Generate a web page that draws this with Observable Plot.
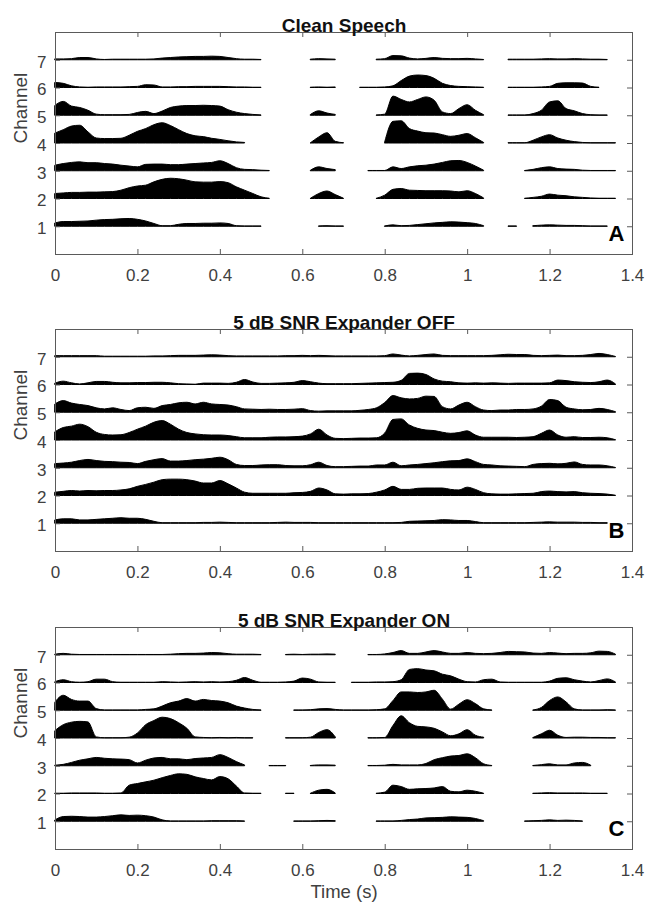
<!DOCTYPE html>
<html>
<head>
<meta charset="utf-8">
<script src="https://cdn.jsdelivr.net/npm/d3@7"></script>
<script src="https://cdn.jsdelivr.net/npm/@observablehq/plot@0.6"></script>
<style>
  html, body { margin: 0; padding: 0; background: #fff; }
  #chart { width: 645px; }
  #chart svg { display: block; }
</style>
</head>
<body>
<div id="chart"></div>
<script>
const _ = null;

// sample times (s)
const time = [
  0,0.02,0.04,0.06,0.08,0.1,0.12,0.14,0.16,0.18,
  0.2,0.22,0.24,0.26,0.28,0.3,0.32,0.34,0.36,0.38,
  0.4,0.42,0.44,0.46,0.48,0.5,0.52,0.54,0.56,0.58,
  0.6,0.62,0.64,0.66,0.68,0.7,0.72,0.74,0.76,0.78,
  0.8,0.82,0.84,0.86,0.88,0.9,0.92,0.94,0.96,0.98,
  1,1.02,1.04,1.06,1.08,1.1,1.12,1.14,1.16,1.18,
  1.2,1.22,1.24,1.26,1.28,1.3,1.32,1.34,1.36
];

const xTicks = [0, 0.2, 0.4, 0.6, 0.8, 1, 1.2, 1.4];
const yTicks = [1, 2, 3, 4, 5, 6, 7];
const panelTitles = ["Clean Speech", "5 dB SNR Expander OFF", "5 dB SNR Expander ON"];
const panelLetters = ["A", "B", "C"];
const xLabel = "Time (s)";
const yLabel = "Channel";

// ---- Panel A: clean speech (envelope height per channel, null = silence) ----
const cleanCh1 = [0.12,0.17,0.17,0.18,0.19,0.22,0.24,0.25,0.27,0.28,
  0.25,0.19,0.10,0.02,0.02,0.07,0.10,0.10,0.11,0.11,
  0.12,0.10,0.02,0.01,0.01,0.01,_,_,_,_,
  _,_,0.01,0.02,0.01,0.01,_,_,_,_,
  0.01,0.05,0.02,0.03,0.06,0.09,0.12,0.14,0.16,0.15,
  0.13,0.10,0.02,_,_,0.01,0.01,_,0.02,0.04,
  0.05,0.04,0.03,0.03,0.02,0.01,0.01,0.01,_];
const cleanCh2 = [0.18,0.20,0.22,0.22,0.23,0.23,0.24,0.25,0.30,0.39,
  0.45,0.48,0.60,0.69,0.73,0.71,0.66,0.60,0.59,0.59,
  0.61,0.57,0.42,0.30,0.18,0.06,0.01,_,_,_,
  _,0.01,0.18,0.27,0.14,0.01,_,_,_,0.01,
  0.12,0.33,0.36,0.30,0.29,0.28,0.28,0.28,0.27,0.24,
  0.28,0.18,0.02,_,_,_,_,0.01,0.04,0.08,
  0.16,0.12,0.10,0.06,0.04,0.02,0.01,0.01,0.01];
const cleanCh3 = [0.20,0.26,0.30,0.32,0.29,0.29,0.26,0.24,0.20,0.17,
  0.14,0.23,0.24,0.24,0.22,0.22,0.24,0.26,0.28,0.30,
  0.36,0.26,0.11,0.05,0.04,0.02,0.01,_,_,_,
  _,0.02,0.14,0.08,0.04,_,_,_,0.01,0.01,
  0.01,0.14,0.08,0.14,0.18,0.20,0.24,0.30,0.36,0.37,
  0.30,0.17,0.02,_,_,_,_,0.01,0.05,0.11,
  0.14,0.08,0.06,0.05,0.02,0.01,0.01,0.01,0.01];
const cleanCh4 = [0.36,0.48,0.61,0.64,0.40,0.18,0.16,0.16,0.17,0.28,
  0.42,0.52,0.66,0.73,0.63,0.48,0.34,0.26,0.23,0.17,
  0.13,0.08,0.04,0.02,_,_,_,_,_,_,
  _,0.01,0.22,0.37,0.06,0.01,_,_,_,_,
  0.04,0.78,0.80,0.52,0.43,0.37,0.36,0.30,0.24,0.28,
  0.34,0.19,0.02,_,_,0.01,0.01,0.01,0.10,0.22,
  0.30,0.18,0.10,0.05,0.02,0.01,0.01,0.01,0.01];
const cleanCh5 = [0.36,0.50,0.33,0.28,0.18,0.04,0.02,0.02,0.02,0.03,
  0.10,0.14,0.06,0.15,0.28,0.33,0.35,0.35,0.36,0.35,
  0.33,0.20,0.11,0.06,0.03,0.01,_,_,_,_,
  _,0.03,0.16,0.08,0.03,_,_,_,_,0.01,
  0.04,0.69,0.57,0.48,0.57,0.66,0.54,0.12,0.06,0.24,
  0.38,0.18,0.02,_,_,0.01,0.01,0.01,0.06,0.18,
  0.48,0.52,0.24,0.16,0.06,0.02,0.01,0.01,_];
const cleanCh6 = [0.18,0.15,0.06,0.02,0.01,0.02,0.02,0.02,0.02,0.03,
  0.04,0.10,0.09,0.02,0.02,0.03,0.03,0.04,0.04,0.04,
  0.04,0.03,0.02,0.02,0.01,0.01,_,_,_,_,
  _,0.01,0.02,0.01,0.02,_,_,0.01,0.01,0.01,
  0.02,0.06,0.25,0.41,0.45,0.43,0.33,0.15,0.07,0.04,
  0.03,0.02,0.01,_,_,0.01,0.01,0.01,0.01,0.02,
  0.04,0.15,0.17,0.17,0.16,0.04,0.01,_,_];
const cleanCh7 = [0.03,0.03,0.04,0.08,0.08,0.03,0.01,0.02,0.02,0.02,
  0.02,0.02,0.03,0.06,0.08,0.10,0.11,0.12,0.12,0.13,
  0.12,0.08,0.04,0.02,0.02,0.01,_,_,_,_,
  _,0.02,0.04,0.03,0.02,_,_,_,_,0.02,
  0.04,0.15,0.14,0.06,0.03,0.05,0.08,0.05,0.04,0.04,
  0.05,0.03,0.01,_,_,0.02,0.02,0.02,0.02,0.03,
  0.04,0.03,0.03,0.04,0.03,0.02,0.02,0.01,_];

// ---- Panel B: 5 dB SNR, expander OFF ----
const offCh1 = [0.12,0.16,0.16,0.12,0.12,0.14,0.16,0.18,0.20,0.18,
  0.18,0.14,0.07,0.02,0.02,0.02,0.02,0.02,0.03,0.03,
  0.04,0.03,0.02,0.02,0.02,0.02,0.02,0.03,0.04,0.03,
  0.03,0.03,0.02,0.02,0.02,0.02,0.02,0.02,0.02,0.02,
  0.02,0.02,0.03,0.07,0.08,0.09,0.10,0.13,0.12,0.10,
  0.10,0.06,0.02,0.02,0.02,0.02,0.02,0.02,0.03,0.04,
  0.05,0.04,0.04,0.04,0.03,0.03,0.02,0.02,_];
const offCh2 = [0.12,0.15,0.18,0.16,0.18,0.17,0.18,0.18,0.20,0.24,
  0.33,0.40,0.48,0.57,0.59,0.59,0.57,0.52,0.45,0.45,
  0.54,0.42,0.27,0.12,0.08,0.08,0.08,0.08,0.08,0.10,
  0.11,0.15,0.27,0.20,0.06,0.05,0.06,0.06,0.07,0.12,
  0.20,0.33,0.22,0.22,0.26,0.27,0.27,0.27,0.22,0.20,
  0.30,0.22,0.10,0.06,0.05,0.05,0.06,0.07,0.08,0.14,
  0.16,0.14,0.13,0.14,0.10,0.08,0.07,0.05,0.01];
const offCh3 = [0.15,0.17,0.20,0.26,0.30,0.26,0.23,0.22,0.20,0.19,
  0.15,0.23,0.29,0.33,0.24,0.24,0.26,0.29,0.31,0.34,
  0.38,0.29,0.12,0.08,0.08,0.10,0.11,0.11,0.08,0.07,
  0.07,0.11,0.20,0.08,0.04,0.04,0.05,0.06,0.06,0.10,
  0.10,0.20,0.07,0.10,0.12,0.15,0.18,0.22,0.25,0.26,
  0.32,0.22,0.12,0.10,0.07,0.06,0.05,0.04,0.12,0.15,
  0.16,0.14,0.16,0.21,0.12,0.10,0.10,0.07,0.01];
const offCh4 = [0.30,0.45,0.50,0.57,0.48,0.28,0.20,0.18,0.19,0.27,
  0.39,0.50,0.64,0.70,0.57,0.39,0.27,0.22,0.19,0.18,
  0.18,0.16,0.12,0.08,0.08,0.08,0.10,0.11,0.11,0.12,
  0.14,0.22,0.39,0.18,0.06,0.05,0.06,0.07,0.07,0.08,
  0.25,0.74,0.76,0.54,0.42,0.36,0.34,0.28,0.24,0.27,
  0.33,0.18,0.10,0.10,0.10,0.10,0.09,0.10,0.12,0.24,
  0.36,0.18,0.10,0.12,0.09,0.09,0.10,0.08,0.01];
const offCh5 = [0.30,0.42,0.33,0.28,0.24,0.16,0.12,0.16,0.10,0.06,
  0.16,0.18,0.14,0.24,0.28,0.34,0.36,0.30,0.36,0.30,
  0.28,0.26,0.20,0.12,0.11,0.10,0.11,0.10,0.10,0.11,
  0.13,0.06,0.04,0.05,0.05,0.05,0.05,0.07,0.10,0.16,
  0.35,0.60,0.52,0.48,0.50,0.58,0.57,0.20,0.12,0.26,
  0.36,0.20,0.08,0.06,0.08,0.08,0.10,0.10,0.12,0.22,
  0.46,0.42,0.18,0.12,0.09,0.10,0.14,0.10,0.02];
const offCh6 = [0.05,0.12,0.06,0.02,0.06,0.11,0.11,0.08,0.06,0.06,
  0.07,0.07,0.08,0.08,0.06,0.03,0.02,0.01,0.05,0.05,
  0.05,0.04,0.08,0.18,0.09,0.04,0.04,0.05,0.06,0.08,
  0.14,0.10,0.05,0.03,0.03,0.03,0.03,0.04,0.05,0.06,
  0.07,0.08,0.15,0.40,0.41,0.36,0.20,0.12,0.10,0.06,
  0.05,0.06,0.05,0.06,0.05,0.04,0.05,0.05,0.05,0.05,
  0.06,0.16,0.14,0.10,0.08,0.07,0.10,0.16,0.02];
const offCh7 = [0.04,0.04,0.04,0.04,0.04,0.04,0.02,0.02,0.02,0.02,
  0.02,0.02,0.03,0.03,0.04,0.05,0.05,0.05,0.06,0.07,
  0.06,0.04,0.03,0.03,0.03,0.03,0.03,0.03,0.04,0.04,
  0.05,0.04,0.05,0.04,0.03,0.03,0.03,0.03,0.03,0.03,
  0.04,0.10,0.06,0.03,0.05,0.08,0.10,0.05,0.04,0.04,
  0.04,0.04,0.04,0.05,0.07,0.09,0.08,0.08,0.05,0.04,
  0.05,0.06,0.04,0.04,0.05,0.08,0.12,0.08,0.01];

// ---- Panel C: 5 dB SNR, expander ON ----
const onCh1 = [0.05,0.17,0.18,0.17,0.15,0.15,0.17,0.20,0.23,0.21,
  0.22,0.20,0.15,0.05,0.01,0.01,0.01,0.01,0.01,0.02,
  0.02,0.02,0.02,0.01,_,_,_,_,_,0.01,
  0.01,0.01,0.02,0.03,0.02,_,_,_,_,0.01,
  0.01,0.01,0.03,0.06,0.08,0.12,0.13,0.14,0.16,0.15,
  0.14,0.10,0.02,_,_,_,_,0.01,0.02,0.03,
  0.05,0.03,0.04,0.03,0.01,_,_,_,_];
const onCh2 = [0.01,0.01,0.02,0.02,0.02,0.02,0.01,0.01,0.02,0.30,
  0.36,0.42,0.48,0.57,0.65,0.71,0.69,0.60,0.54,0.49,
  0.61,0.53,0.27,0.02,0.01,0.01,_,_,0.01,0.01,
  _,0.01,0.12,0.15,0.02,_,_,_,_,0.01,
  0.05,0.30,0.25,0.15,0.17,0.18,0.20,0.25,0.08,0.06,
  0.12,0.08,0.01,_,_,_,_,_,0.01,0.02,
  0.03,0.02,0.02,0.02,0.02,0.01,0.01,0.01,_];
const onCh3 = [0.02,0.05,0.12,0.20,0.25,0.30,0.27,0.25,0.24,0.22,
  0.10,0.20,0.28,0.30,0.25,0.25,0.22,0.26,0.28,0.30,
  0.40,0.30,0.15,0.03,_,_,0.01,0.01,0.01,_,
  _,0.01,0.03,0.03,0.02,_,_,_,0.01,0.01,
  0.02,0.05,0.03,0.03,0.03,0.08,0.22,0.29,0.35,0.37,
  0.43,0.29,0.07,0.01,_,_,_,_,0.01,0.04,
  0.07,0.03,0.03,0.10,0.12,0.02,_,_,_];
const onCh4 = [0.27,0.48,0.57,0.60,0.58,0.04,0.01,0.01,0.01,0.03,
  0.18,0.48,0.63,0.75,0.70,0.55,0.35,0.04,0.02,0.01,
  0.02,0.01,0.02,0.01,0.01,_,_,_,0.01,0.01,
  0.01,0.03,0.20,0.30,0.04,_,_,_,0.01,0.01,
  0.02,0.45,0.80,0.55,0.42,0.40,0.35,0.22,0.08,0.15,
  0.30,0.10,0.03,_,_,_,_,_,0.02,0.15,
  0.28,0.10,0.02,0.03,0.03,0.02,0.02,0.01,0.01];
const onCh5 = [0.30,0.54,0.39,0.33,0.33,0.06,0.01,0.01,0.01,0.01,
  0.01,0.03,0.05,0.15,0.27,0.33,0.42,0.33,0.39,0.35,
  0.33,0.27,0.15,0.08,0.03,0.01,_,_,_,0.01,
  0.01,0.02,0.05,0.06,0.03,0.01,0.01,0.01,0.01,0.02,
  0.05,0.35,0.66,0.66,0.64,0.66,0.72,0.40,0.04,0.22,
  0.38,0.24,0.05,0.01,_,_,_,_,0.01,0.10,
  0.35,0.48,0.30,0.05,0.01,0.01,0.01,0.02,0.01];
const onCh6 = [0.03,0.10,0.03,0.01,0.03,0.12,0.12,0.03,0.01,0.01,
  0.01,0.01,0.01,0.03,0.02,0.01,0.02,0.03,0.02,0.03,
  0.02,0.03,0.08,0.18,0.08,0.01,0.01,0.01,0.02,0.05,
  0.16,0.12,0.02,0.01,0.01,_,0.01,0.01,0.01,0.02,
  0.02,0.03,0.10,0.47,0.50,0.45,0.42,0.30,0.24,0.12,
  0.03,0.02,0.10,0.12,0.02,0.01,0.01,0.01,0.01,0.01,
  0.05,0.15,0.17,0.10,0.05,0.02,0.07,0.13,0.02];
const onCh7 = [0.02,0.05,0.02,0.01,0.01,0.01,0.01,0.01,0.01,0.01,
  0.01,0.01,0.01,0.01,0.02,0.04,0.05,0.05,0.06,0.08,
  0.07,0.04,0.02,0.02,0.02,0.01,_,_,0.01,0.02,
  0.01,0.02,0.02,0.03,0.02,_,_,_,0.01,0.01,
  0.03,0.08,0.15,0.05,0.05,0.10,0.15,0.10,0.05,0.05,
  0.08,0.05,0.04,0.05,0.08,0.12,0.11,0.10,0.06,0.05,
  0.08,0.06,0.04,0.05,0.05,0.07,0.13,0.12,0.02];

const panels = [
  [cleanCh1, cleanCh2, cleanCh3, cleanCh4, cleanCh5, cleanCh6, cleanCh7],
  [offCh1, offCh2, offCh3, offCh4, offCh5, offCh6, offCh7],
  [onCh1, onCh2, onCh3, onCh4, onCh5, onCh6, onCh7]
];

const W = 645, ML = 55, MR = 13, INNER_H = 222;
const innerW = W - ML - MR;
const frameColor = "#5a5a5a";
const textColor = "#404040";
const fontFam = "'Liberation Sans', Arial, Helvetica, sans-serif";
const layout = [
  {mt: 32, mb: 43},
  {mt: 32, mb: 43},
  {mt: 33, mb: 61}
];

function makePanel(p) {
  const rows = [];
  panels[p].forEach((vals, k) => {
    vals.forEach((v, i) => rows.push({t: time[i], ch: k + 1, v}));
  });
  const {mt, mb} = layout[p];
  const marks = [
    Plot.areaY(rows, {
      x: "t", y1: "ch",
      y2: d => d.v == null ? NaN : d.ch + d.v,
      z: "ch", fill: "black", stroke: "black", strokeWidth: 1,
      curve: "monotone-x"
    }),
    Plot.frame({stroke: frameColor, strokeWidth: 1}),
    Plot.ruleX(xTicks.slice(1, -1), {x: d => d, stroke: frameColor, insetTop: INNER_H - 5}),
    Plot.ruleX(xTicks.slice(1, -1), {x: d => d, stroke: frameColor, insetBottom: INNER_H - 5}),
    Plot.ruleY(yTicks, {y: d => d, stroke: frameColor, insetLeft: innerW - 5}),
    Plot.ruleY(yTicks, {y: d => d, stroke: frameColor, insetRight: innerW - 5}),
    Plot.axisX(xTicks, {tickSize: 0, tickPadding: 14, label: null, fontSize: 17, fill: textColor,
      tickFormat: d => d3.format("~g")(d)}),
    Plot.axisY(yTicks, {tickSize: 0, tickPadding: 9, label: null, fontSize: 17, fill: textColor, dy: 2}),
    Plot.text([panelTitles[p]], {frameAnchor: "top", dy: -14, fontSize: 19, fontWeight: "bold", fill: "#111"}),
    Plot.text([yLabel], {frameAnchor: "left", dx: -35, rotate: -90, fontSize: 19, fill: textColor}),
    Plot.text([panelLetters[p]], {frameAnchor: "bottom-right", dx: -8, dy: -14, textAnchor: "end",
      fontSize: 22, fontWeight: "bold", fill: "black"})
  ];
  if (p === 2) {
    marks.push(Plot.text([xLabel], {frameAnchor: "bottom", dy: 48, fontSize: 18.5, fill: textColor}));
  }
  return Plot.plot({
    width: W,
    height: mt + INNER_H + mb,
    marginLeft: ML, marginRight: MR, marginTop: mt, marginBottom: mb,
    x: {domain: [0, 1.4]},
    y: {domain: [0, 8]},
    style: {fontFamily: fontFam, background: "white", color: textColor, overflow: "visible"},
    marks
  });
}

const root = document.getElementById("chart");
for (let p = 0; p < 3; p++) root.appendChild(makePanel(p));
</script>
</body>
</html>
